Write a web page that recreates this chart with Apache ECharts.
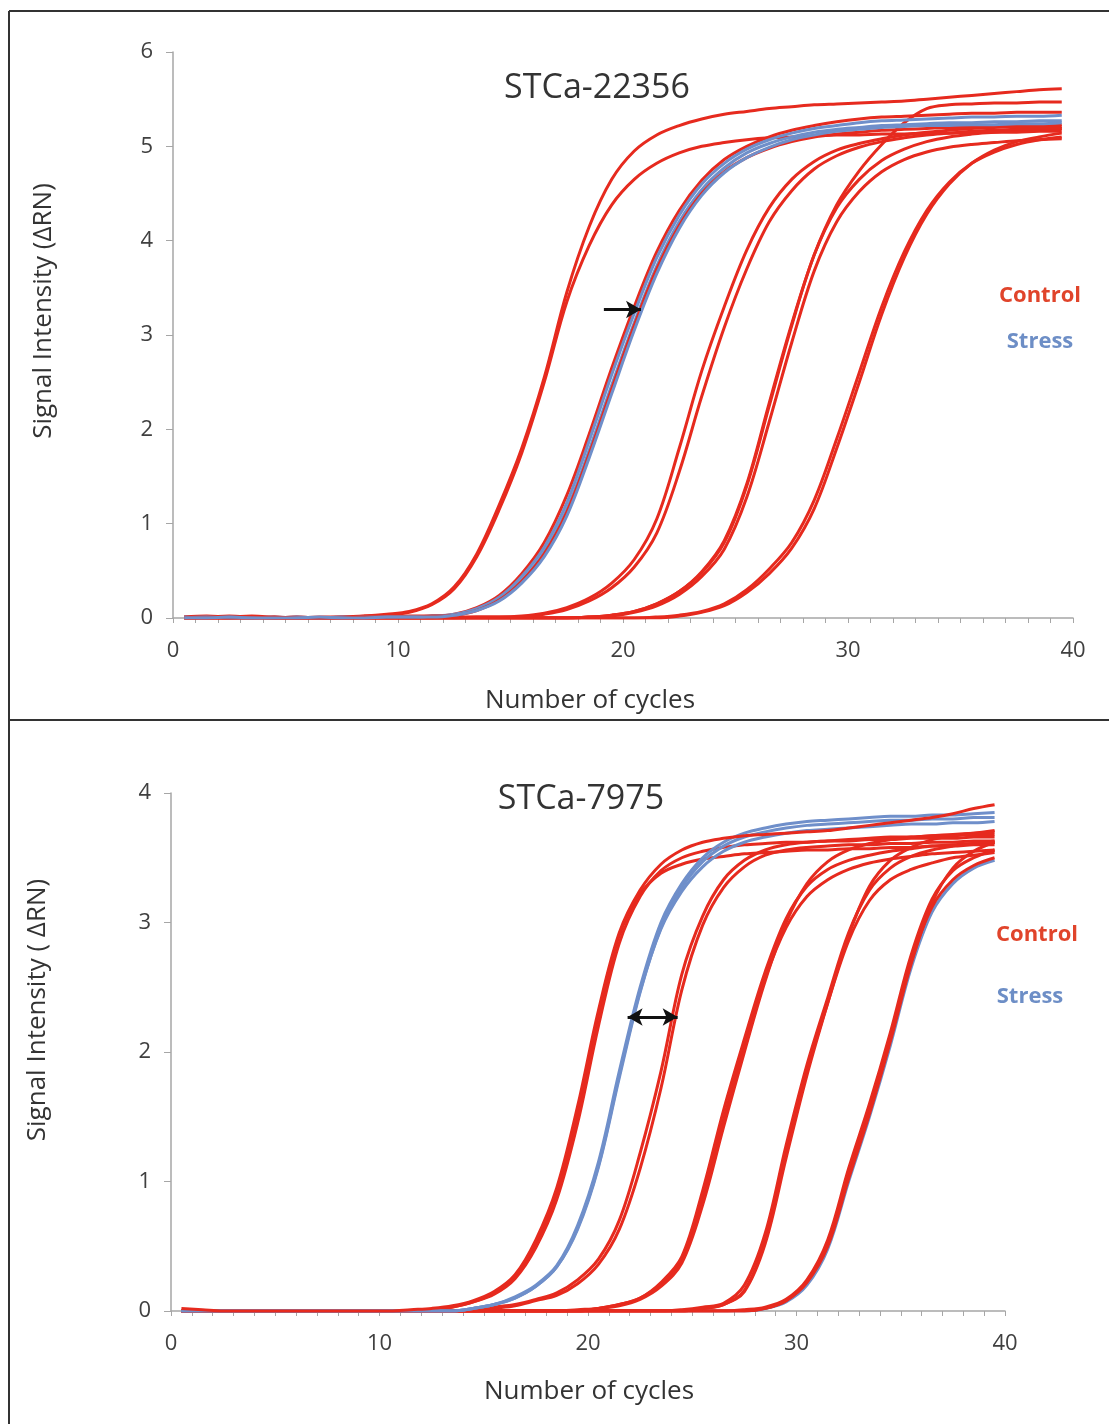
<!DOCTYPE html>
<html>
<head>
<meta charset="utf-8">
<script src="https://cdn.jsdelivr.net/npm/echarts@6/dist/echarts.min.js"></script>
<style>
html,body{margin:0;padding:0;background:#fff;}
#chart{width:1109px;height:1424px;}
</style>
</head>
<body>
<div id="chart"></div>
<script>
// ---- data (cycle positions shared by all curves) ----
var cycles = [0.5,1.5,2.5,3.5,4.5,5.5,6.5,7.5,8.5,9.5,10.5,11.5,12.5,13.5,14.5,15.5,16.5,17.5,18.5,19.5,20.5,21.5,22.5,23.5,24.5,25.5,26.5,27.5,28.5,29.5,30.5,31.5,32.5,33.5,34.5,35.5,36.5,37.5,38.5,39.5];

var xTicks = [0,10,20,30,40];
var topYTicks = [0,1,2,3,4,5,6];
var botYTicks = [0,1,2,3,4];

// ---- Panel 1: STCa-22356 ----
var topA1 = [0.01,0.02,0.01,0.02,0.01,0,0.01,0.01,0.02,0.04, 0.07,0.15,0.33,0.68,1.2,1.8,2.55,3.45,4.15,4.65, 4.95,5.12,5.22,5.29,5.34,5.37,5.4,5.42,5.44,5.45, 5.46,5.47,5.48,5.5,5.52,5.54,5.56,5.58,5.6,5.61];
var topA2 = [0.01,0.01,0.02,0.01,0,0.01,0,0.01,0.02,0.03, 0.06,0.14,0.31,0.65,1.15,1.75,2.5,3.35,3.95,4.38, 4.65,4.82,4.93,5.0,5.04,5.07,5.09,5.1,5.11,5.12, 5.12,5.13,5.13,5.14,5.14,5.15,5.15,5.15,5.16,5.16];
var topBRed1 = [0.01,0.01,0,0.01,0,0,0,0.01,0.01,0.01, 0.02,0.02,0.04,0.11,0.24,0.47,0.8,1.3,1.95,2.65, 3.3,3.88,4.32,4.64,4.86,5.0,5.1,5.17,5.22,5.26, 5.29,5.31,5.32,5.33,5.34,5.35,5.35,5.36,5.36,5.36];
var topBRed2 = [0,0,0.01,0,0.01,0,0,0,0.01,0.01, 0.01,0.02,0.03,0.08,0.19,0.39,0.68,1.12,1.74,2.43, 3.1,3.7,4.16,4.5,4.73,4.88,4.98,5.05,5.1,5.13, 5.15,5.17,5.18,5.19,5.2,5.2,5.21,5.21,5.21,5.21];
var topBBlue1 = [0.01,0,0.01,0,0,0.01,0,0,0.01,0.01, 0.01,0.02,0.04,0.1,0.22,0.44,0.75,1.22,1.88,2.58, 3.23,3.82,4.27,4.6,4.82,4.97,5.07,5.14,5.19,5.22, 5.25,5.27,5.28,5.29,5.3,5.31,5.31,5.32,5.32,5.33];
var topBBlue2 = [0,0.01,0,0,0.01,0,0,0.01,0,0.01, 0.01,0.02,0.03,0.09,0.2,0.4,0.7,1.15,1.78,2.47, 3.13,3.73,4.2,4.54,4.77,4.93,5.03,5.1,5.15,5.18, 5.2,5.22,5.23,5.24,5.25,5.25,5.26,5.26,5.27,5.27];
var topBBlue3 = [0,0,0.01,0,0,0,0.01,0,0,0.01, 0.01,0.01,0.03,0.08,0.18,0.37,0.65,1.08,1.7,2.38, 3.05,3.65,4.13,4.48,4.72,4.88,4.99,5.07,5.12,5.16, 5.18,5.2,5.21,5.22,5.22,5.23,5.23,5.24,5.24,5.25];
var topC1 = [0,0.01,0,0,0,0.01,0,0,0,0, 0,0,0.01,0.01,0.01,0.02,0.05,0.11,0.21,0.37, 0.62,1.05,1.8,2.62,3.3,3.9,4.35,4.65,4.84,4.96, 5.03,5.08,5.12,5.15,5.17,5.19,5.2,5.21,5.22,5.23];
var topC2 = [0,0,0,0.01,0,0,0,0,0,0, 0,0,0,0.01,0.01,0.01,0.04,0.09,0.18,0.32, 0.54,0.9,1.55,2.35,3.08,3.7,4.2,4.53,4.76,4.9, 4.99,5.05,5.09,5.12,5.14,5.16,5.17,5.18,5.18,5.19];
var topD1 = [0,0,0,0,0,0,0,0,0,0, 0,0,0,0,0,0,0,0,0.01,0.03, 0.07,0.15,0.28,0.48,0.8,1.4,2.25,3.1,3.85,4.35, 4.65,4.85,4.97,5.05,5.1,5.13,5.15,5.17,5.18,5.19];
var topD2 = [0,0,0,0,0,0,0,0,0,0, 0,0,0,0,0,0,0,0,0.01,0.02, 0.06,0.13,0.25,0.44,0.73,1.28,2.08,2.92,3.68,4.2, 4.52,4.73,4.86,4.94,4.99,5.02,5.04,5.06,5.07,5.08];
var topD3 = [0,0,0,0,0,0,0,0,0,0, 0,0,0,0,0,0,0,0,0.01,0.03, 0.07,0.15,0.28,0.49,0.82,1.42,2.28,3.12,3.85,4.38, 4.74,5.02,5.25,5.4,5.44,5.45,5.46,5.46,5.47,5.47];
var topE1 = [0,0,0,0,0,0,0,0,0,0, 0,0,0,0,0,0,0,0,0,0, 0,0.01,0.03,0.07,0.15,0.3,0.52,0.8,1.25,1.9, 2.6,3.3,3.88,4.32,4.62,4.82,4.94,5.02,5.07,5.1];
var topE2 = [0,0,0,0,0,0,0,0,0,0, 0,0,0,0,0,0,0,0,0,0, 0,0,0.02,0.06,0.13,0.27,0.47,0.74,1.16,1.8, 2.5,3.22,3.82,4.28,4.6,4.82,4.96,5.05,5.1,5.14];

// ---- Panel 2: STCa-7975 ----
var botA1 = [0.02,0.01,0,0,0,0,0,0,0,0, 0,0.01,0.02,0.04,0.08,0.15,0.28,0.55,0.95,1.58, 2.32,2.92,3.25,3.45,3.56,3.62,3.65,3.67,3.68,3.69, 3.7,3.71,3.73,3.75,3.77,3.79,3.81,3.84,3.88,3.91];
var botA2 = [0,0,0,0,0,0,0,0,0,0, 0,0,0.01,0.03,0.07,0.13,0.25,0.49,0.86,1.45, 2.2,2.84,3.2,3.4,3.5,3.55,3.58,3.6,3.61,3.62, 3.62,3.63,3.63,3.64,3.64,3.65,3.65,3.65,3.66,3.66];
var botA3 = [0,0,0,0,0,0,0,0,0,0, 0,0,0.01,0.03,0.07,0.14,0.26,0.52,0.9,1.52, 2.28,2.9,3.22,3.38,3.45,3.49,3.51,3.53,3.54,3.55, 3.56,3.56,3.57,3.57,3.58,3.58,3.59,3.59,3.6,3.6];
var botBBlue1 = [0,0,0,0,0,0,0,0,0,0, 0,0,0,0,0.02,0.05,0.11,0.2,0.35,0.66, 1.15,1.85,2.5,3.0,3.3,3.5,3.62,3.69,3.73,3.76, 3.78,3.79,3.8,3.81,3.82,3.82,3.83,3.83,3.84,3.85];
var botBBlue2 = [0,0,0,0,0,0,0,0,0,0, 0,0,0,0,0.02,0.05,0.1,0.19,0.34,0.63, 1.11,1.8,2.46,2.96,3.27,3.47,3.59,3.66,3.7,3.73, 3.75,3.76,3.77,3.78,3.79,3.79,3.8,3.8,3.81,3.81];
var botBBlue3 = [0,0,0,0,0,0,0,0,0,0, 0,0,0,0,0.02,0.05,0.1,0.19,0.34,0.64, 1.12,1.82,2.47,2.95,3.24,3.43,3.55,3.62,3.66,3.69, 3.71,3.72,3.73,3.74,3.75,3.76,3.76,3.77,3.77,3.78];
var botC1 = [0,0,0,0,0,0,0,0,0,0, 0,0,0,0,0.01,0.03,0.05,0.09,0.14,0.24, 0.4,0.7,1.22,1.85,2.6,3.05,3.33,3.48,3.56,3.6, 3.62,3.63,3.64,3.65,3.66,3.66,3.67,3.67,3.68,3.68];
var botC2 = [0,0,0,0,0,0,0,0,0,0, 0,0,0,0,0,0.02,0.04,0.08,0.12,0.21, 0.36,0.63,1.1,1.72,2.48,2.98,3.27,3.43,3.52,3.56, 3.58,3.59,3.6,3.6,3.61,3.61,3.62,3.62,3.63,3.63];
var botD1 = [0,0,0,0,0,0,0,0,0,0, 0,0,0,0,0,0,0,0,0,0.01, 0.02,0.05,0.1,0.22,0.42,0.93,1.55,2.1,2.62,3.03, 3.28,3.41,3.48,3.52,3.55,3.57,3.59,3.6,3.61,3.62];
var botD2 = [0,0,0,0,0,0,0,0,0,0, 0,0,0,0,0,0,0,0,0,0, 0.02,0.04,0.09,0.19,0.37,0.82,1.42,2.0,2.55,3.0, 3.3,3.47,3.56,3.61,3.64,3.66,3.67,3.68,3.69,3.7];
var botD3 = [0,0,0,0,0,0,0,0,0,0, 0,0,0,0,0,0,0,0,0,0, 0.02,0.05,0.1,0.21,0.4,0.88,1.48,2.05,2.57,2.96, 3.2,3.33,3.41,3.46,3.49,3.51,3.53,3.54,3.55,3.56];
var botE1 = [0,0,0,0,0,0,0,0,0,0, 0,0,0,0,0,0,0,0,0,0, 0,0,0,0,0.01,0.03,0.06,0.2,0.6,1.28, 1.9,2.42,2.92,3.25,3.42,3.51,3.56,3.59,3.61,3.63];
var botE2 = [0,0,0,0,0,0,0,0,0,0, 0,0,0,0,0,0,0,0,0,0, 0,0,0,0,0,0.02,0.05,0.15,0.52,1.18, 1.82,2.38,2.9,3.28,3.48,3.58,3.64,3.67,3.69,3.71];
var botE3 = [0,0,0,0,0,0,0,0,0,0, 0,0,0,0,0,0,0,0,0,0, 0,0,0,0,0,0.02,0.05,0.16,0.55,1.22, 1.85,2.38,2.86,3.17,3.33,3.41,3.46,3.5,3.52,3.54];
var botF1 = [0,0,0,0,0,0,0,0,0,0, 0,0,0,0,0,0,0,0,0,0, 0,0,0,0,0,0,0,0.01,0.03,0.09, 0.24,0.55,1.1,1.6,2.15,2.75,3.18,3.4,3.5,3.56];
var botF2 = [0,0,0,0,0,0,0,0,0,0, 0,0,0,0,0,0,0,0,0,0, 0,0,0,0,0,0,0,0,0.02,0.08, 0.22,0.5,1.02,1.52,2.08,2.68,3.15,3.42,3.55,3.62];
var botF3 = [0,0,0,0,0,0,0,0,0,0, 0,0,0,0,0,0,0,0,0,0, 0,0,0,0,0,0,0,0,0.02,0.08, 0.23,0.53,1.06,1.56,2.1,2.7,3.12,3.33,3.44,3.5];
var botFBlue = [0,0,0,0,0,0,0,0,0,0, 0,0,0,0,0,0,0,0,0,0, 0,0,0,0,0,0,0,0,0.02,0.07, 0.2,0.48,1.0,1.5,2.05,2.65,3.08,3.3,3.42,3.48];

// annotation arrows (data coordinates: [cycle, signal])
var topArrow = [[19.15, 3.27], [20.8, 3.27]];
var botArrow = [[21.9, 2.27], [24.3, 2.27]];

var RED = '#e62a1e';
var BLUE = '#6f8fca';

// draw order per panel: [values, colour]
var topCurves = [
  [topE2, RED], [topE1, RED], [topD2, RED], [topD1, RED], [topD3, RED],
  [topC2, RED], [topC1, RED], [topA2, RED], [topA1, RED],
  [topBRed1, RED], [topBBlue1, BLUE], [topBBlue2, BLUE], [topBRed2, RED], [topBBlue3, BLUE]
];
var botCurves = [
  [botFBlue, BLUE], [botF3, RED], [botF1, RED], [botF2, RED],
  [botE3, RED], [botE1, RED], [botE2, RED],
  [botD3, RED], [botD1, RED], [botD2, RED],
  [botC2, RED], [botC1, RED],
  [botA3, RED], [botA2, RED],
  [botBBlue3, BLUE], [botBBlue2, BLUE], [botBBlue1, BLUE], [botA1, RED]
];

var FONT = 'Open Sans';
var AX = '#a6a6a6';
var TXT = '#404040';

function makeSeries(list, gi) {
  return list.map(function (c, k) {
    return {
      type: 'line', xAxisIndex: gi, yAxisIndex: gi,
      data: cycles.map(function (x, i) { return [x, c[0][i]]; }),
      showSymbol: false, smooth: 0.35, silent: true,
      lineStyle: { color: c[1], width: 3 },
      z: 2 + k * 0.01
    };
  });
}
function arrowSeries(pts, gi, both) {
  return {
    type: 'line', xAxisIndex: gi, yAxisIndex: gi, data: [], silent: true, z: 10,
    markLine: {
      silent: true, animation: false,
      symbol: both ? ['arrow', 'arrow'] : ['none', 'arrow'],
      symbolSize: [13, 15],
      label: { show: false },
      lineStyle: { color: '#111', width: 3, type: 'solid' },
      data: [[{ coord: pts[0] }, { coord: pts[1] }]]
    }
  };
}
function xAxisDef(gi) {
  return {
    gridIndex: gi, type: 'value', min: xTicks[0], max: xTicks[xTicks.length - 1], interval: 10,
    axisLine: { show: true, lineStyle: { color: AX, width: 1.5 } },
    axisTick: { show: true, length: 5, lineStyle: { color: AX } },
    minorTick: { show: true, splitNumber: 10, length: 5, lineStyle: { color: AX } },
    splitLine: { show: false }, minorSplitLine: { show: false },
    axisLabel: { color: TXT, fontSize: 22, fontFamily: FONT, margin: 22 }
  };
}
function yAxisDef(gi, ticks) {
  return {
    gridIndex: gi, type: 'value', min: ticks[0], max: ticks[ticks.length - 1], interval: 1,
    axisLine: { show: true, lineStyle: { color: AX, width: 1.5 } },
    axisTick: { show: true, length: 7, lineStyle: { color: AX } },
    splitLine: { show: false },
    axisLabel: { color: TXT, fontSize: 22, fontFamily: FONT, margin: 20 }
  };
}
function txt(x, y, s, size, color, weight, rot) {
  return {
    type: 'text', x: x, y: y, rotation: rot || 0, z: 20,
    style: { text: s, fill: color, font: (weight || 'normal') + ' ' + size + 'px "' + FONT + '"',
             textAlign: 'center', textVerticalAlign: 'middle' }
  };
}
function hline(x1, x2, y) { return { type: 'line', shape: { x1: x1, y1: y, x2: x2, y2: y }, style: { stroke: '#333', lineWidth: 2 }, z: 30 }; }
function vline(x, y1, y2) { return { type: 'line', shape: { x1: x, y1: y1, x2: x, y2: y2 }, style: { stroke: '#333', lineWidth: 2 }, z: 30 }; }

var chart = echarts.init(document.getElementById('chart'), null, { renderer: 'canvas' });
chart.setOption({
  animation: false,
  backgroundColor: '#ffffff',
  grid: [
    { left: 173, top: 52, width: 900, height: 566 },
    { left: 171, top: 793, width: 834, height: 518 }
  ],
  xAxis: [xAxisDef(0), xAxisDef(1)],
  yAxis: [yAxisDef(0, topYTicks), yAxisDef(1, botYTicks)],
  series: makeSeries(topCurves, 0).concat(makeSeries(botCurves, 1)).concat([
    arrowSeries(topArrow, 0, false), arrowSeries(botArrow, 1, true)
  ]),
  graphic: [
    hline(9, 1109, 11), vline(9, 11, 1424), hline(9, 1109, 720),
    txt(597, 88, 'STCa-22356', 34, '#333'),
    txt(581, 799, 'STCa-7975', 34, '#333'),
    txt(590, 701, 'Number of cycles', 26, '#333'),
    txt(589, 1392, 'Number of cycles', 26, '#333'),
    txt(44, 311, 'Signal Intensity (\u0394RN)', 26, '#333', 'normal', Math.PI / 2),
    txt(38, 1010, 'Signal Intensity ( \u0394RN)', 26, '#333', 'normal', Math.PI / 2),
    txt(1040, 296, 'Control', 22, '#e0442b', 'bold'),
    txt(1040, 342, 'Stress', 22, '#6d8ec6', 'bold'),
    txt(1037, 935, 'Control', 22, '#e0442b', 'bold'),
    txt(1030, 997, 'Stress', 22, '#6d8ec6', 'bold')
  ]
});
</script>
</body>
</html>
